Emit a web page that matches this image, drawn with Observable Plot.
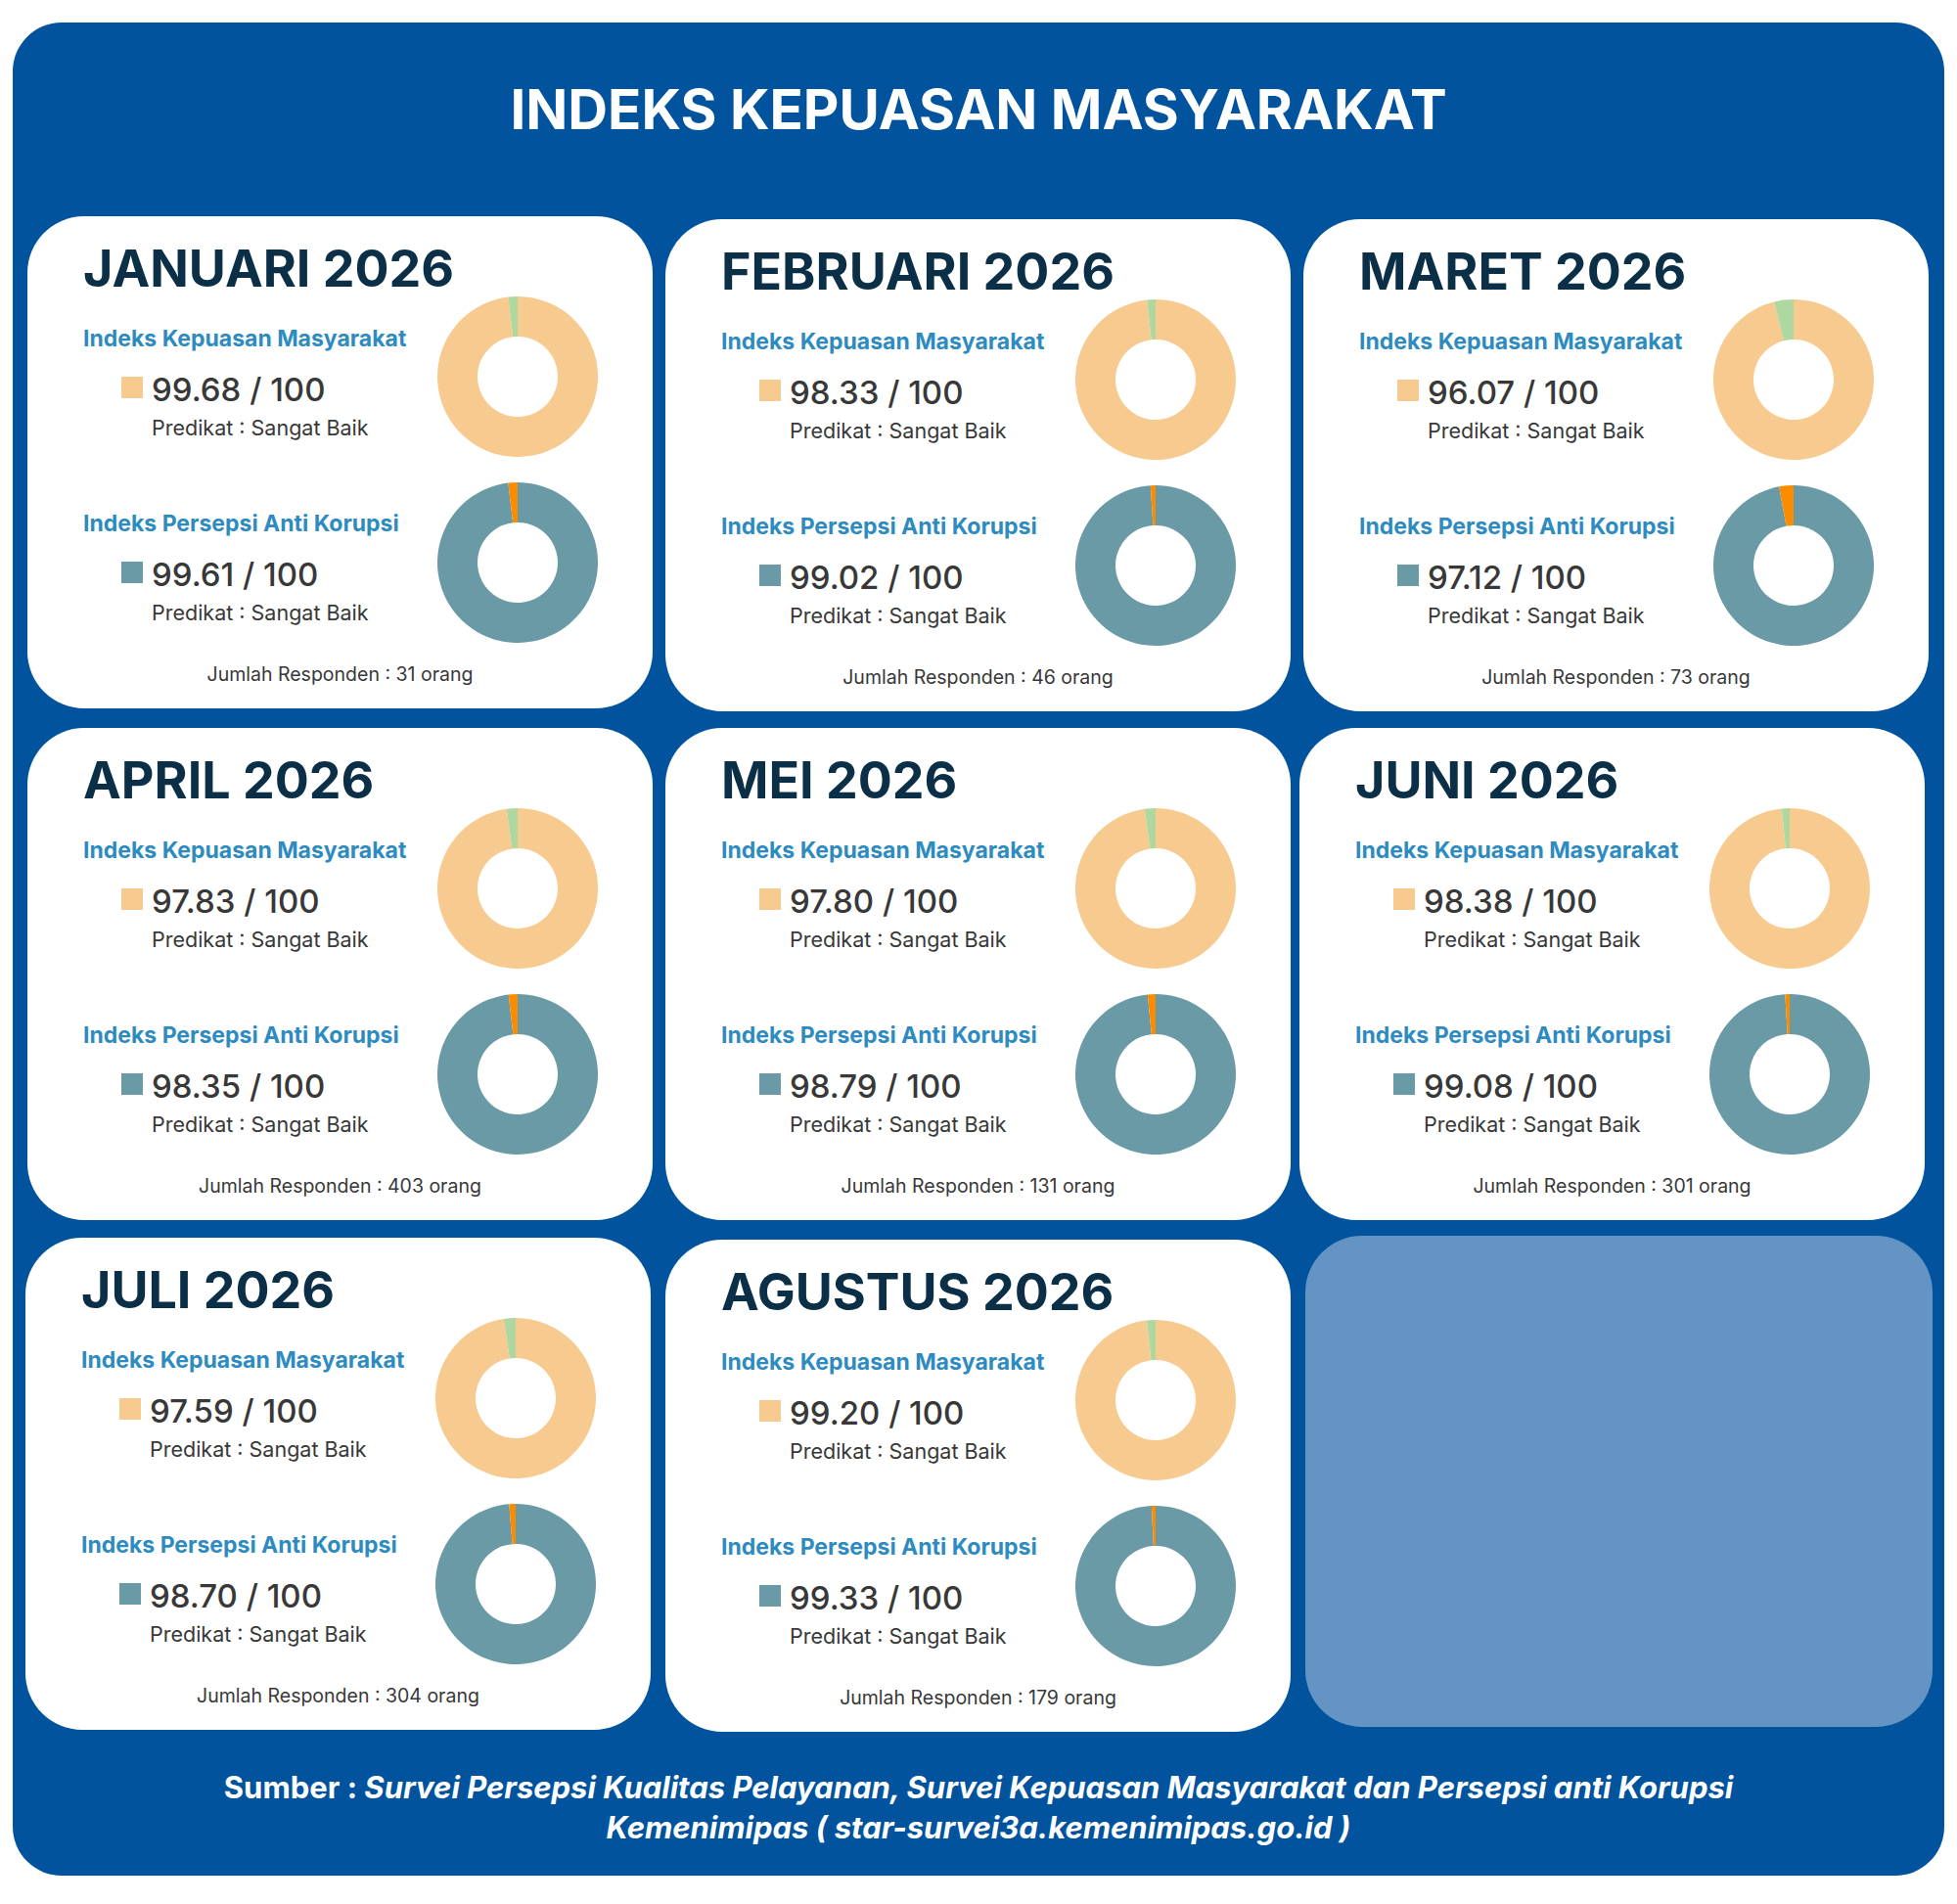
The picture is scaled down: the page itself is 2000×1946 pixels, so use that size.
<!DOCTYPE html>
<html><head><meta charset="utf-8">
<script src="https://cdn.jsdelivr.net/npm/d3@7"></script>
<script src="https://cdn.jsdelivr.net/npm/@observablehq/plot@0.6"></script>
<style>
html,body{margin:0;padding:0;background:#fff;}
#page{position:relative;width:2000px;height:1946px;overflow:hidden;}
#bg{position:absolute;left:0;top:0;}
.donut{position:absolute;}
</style></head><body><div id="page"></div>
<script>
// ---------- DATA ----------
const months = ["JANUARI 2026", "FEBRUARI 2026", "MARET 2026", "APRIL 2026", "MEI 2026", "JUNI 2026", "JULI 2026", "AGUSTUS 2026"];
const ikm = [99.68, 98.33, 96.07, 97.83, 97.80, 98.38, 97.59, 99.20];
const ipak = [99.61, 99.02, 97.12, 98.35, 98.79, 99.08, 98.70, 99.33];
// small remainder slices, read from the donuts
const ikmGap = [1.9, 1.7, 3.9, 2.2, 2.2, 1.6, 2.4, 1.8];
const ipakGap = [1.9, 1.0, 2.9, 1.8, 1.6, 0.9, 1.3, 0.8];
const predikatIkm = ["Sangat Baik", "Sangat Baik", "Sangat Baik", "Sangat Baik", "Sangat Baik", "Sangat Baik", "Sangat Baik", "Sangat Baik"];
const predikatIpak = ["Sangat Baik", "Sangat Baik", "Sangat Baik", "Sangat Baik", "Sangat Baik", "Sangat Baik", "Sangat Baik", "Sangat Baik"];
const responden = [31, 46, 73, 403, 131, 301, 304, 179];
const ikmParts = ["IKM", "Sisa IKM"];
const ipakParts = ["IPAK", "Sisa IPAK"];

// ---------- STYLE / LAYOUT ----------
const BLUE = "#02539d", NAVY = "#0b2f47", LABEL = "#2e8bc0", TXT = "#383838";
const ikmColors = ["#f7cb90", "#afd7a0"];
const ipakColors = ["#6b9aa7", "#fb8c00"];
const cardX = [28, 680, 1332, 28, 680, 1328, 26, 680];
const cardY = [221, 224, 224, 744, 744, 744, 1265, 1267];
const CW = 639, CH = 503;
const FONT = "Inter, 'DejaVu Sans', sans-serif";

const page = d3.select("#page");
const svg = page.append("svg").attr("id", "bg").attr("width", 2000).attr("height", 1946)
  .attr("viewBox", "0 0 2000 1946");

svg.append("rect").attr("x", 13).attr("y", 23).attr("width", 1974).attr("height", 1894)
  .attr("rx", 50).attr("fill", BLUE);

svg.append("text").attr("x", 1000).attr("y", 132).attr("text-anchor", "middle")
  .attr("font-family", FONT).attr("font-weight", 700).attr("font-size", 56.5)
  .attr("fill", "#fff").text("INDEKS KEPUASAN MASYARAKAT");

// empty ninth tile
svg.append("rect").attr("x", 1334).attr("y", 1263).attr("width", 641).attr("height", 502)
  .attr("rx", 58).attr("fill", "#6394c4");

function txt(g, x, y, s, o) {
  return g.append("text").attr("x", x).attr("y", y)
    .attr("font-family", o.family || FONT).attr("font-weight", o.weight || 400)
    .attr("font-size", o.size).attr("fill", o.fill || TXT)
    .attr("text-anchor", o.anchor || "start").attr("letter-spacing", o.ls || 0).text(s);
}

function donut(value, gap, domain, range) {
  const R = 82, r = 41, S = 2 * R + 6;
  const parts = [{k: domain[0], v: value}, {k: domain[1], v: gap}];
  const color = Plot.scale({color: {type: "ordinal", domain, range}});
  const theta = Plot.scale({x: {type: "linear", domain: [0, value + gap], range: [0, 2 * Math.PI]}});
  const arc = d3.arc().innerRadius(r).outerRadius(R);
  return Plot.plot({
    width: S, height: S, margin: 0,
    style: {background: "transparent", overflow: "visible"},
    marks: [
      (index, scales, values, dims) => {
        const g = d3.create("svg:g").attr("transform", `translate(${dims.width / 2},${dims.height / 2})`);
        let acc = 0;
        for (const p of parts) {
          g.append("path")
            .attr("d", arc({startAngle: theta.apply(acc), endAngle: theta.apply(acc + p.v)}))
            .attr("fill", color.apply(p.k));
          acc += p.v;
        }
        return g.node();
      }
    ]
  });
}

months.forEach((m, i) => {
  const x0 = cardX[i], y0 = cardY[i];
  svg.append("rect").attr("x", x0).attr("y", y0).attr("width", CW).attr("height", CH)
    .attr("rx", 58).attr("fill", "#fff");
  const g = svg.append("g").attr("transform", `translate(${x0},${y0})`);
  txt(g, 57, 72, m, {size: 52, weight: 700, fill: NAVY});

  const blocks = [
    {label: "Indeks Kepuasan Masyarakat", v: ikm[i], pred: predikatIkm[i], col: ikmColors[0], dy: 0},
    {label: "Indeks Persepsi Anti Korupsi", v: ipak[i], pred: predikatIpak[i], col: ipakColors[0], dy: 189}
  ];
  for (const b of blocks) {
    txt(g, 57, 133 + b.dy, b.label, {size: 23, weight: 700, fill: LABEL});
    g.append("rect").attr("x", 96).attr("y", 164 + b.dy).attr("width", 22).attr("height", 22).attr("fill", b.col);
    txt(g, 127, 189 + b.dy, `${b.v.toFixed(2)} / 100`, {size: 33, weight: 500});
    txt(g, 127, 224 + b.dy, `Predikat : ${b.pred}`, {size: 21.5, weight: 400});
  }
  txt(g, CW / 2, 475, `Jumlah Responden : ${responden[i]} orang`, {size: 19.5, anchor: "middle"});

  const d1 = donut(ikm[i], ikmGap[i], ikmParts, ikmColors);
  const d2 = donut(ipak[i], ipakGap[i], ipakParts, ipakColors);
  const S = 170;
  for (const [d, cy] of [[d1, 164], [d2, 354]]) {
    const div = page.append("div").attr("class", "donut")
      .style("left", (x0 + 501 - S / 2) + "px").style("top", (y0 + cy - S / 2) + "px");
    div.node().appendChild(d);
  }
});

const foot = svg.append("text").attr("x", 1000).attr("y", 1838).attr("text-anchor", "middle")
  .attr("font-family", FONT).attr("font-weight", 700).attr("font-size", 31).attr("fill", "#fff");
foot.append("tspan").text("Sumber : ");
foot.append("tspan").attr("font-style", "italic").text("Survei Persepsi Kualitas Pelayanan, Survei Kepuasan Masyarakat dan Persepsi anti Korupsi");
svg.append("text").attr("x", 1000).attr("y", 1879).attr("text-anchor", "middle")
  .attr("font-family", FONT).attr("font-weight", 700).attr("font-style", "italic").attr("font-size", 31)
  .attr("fill", "#fff").text("Kemenimipas ( star-survei3a.kemenimipas.go.id )");
</script></body></html>
